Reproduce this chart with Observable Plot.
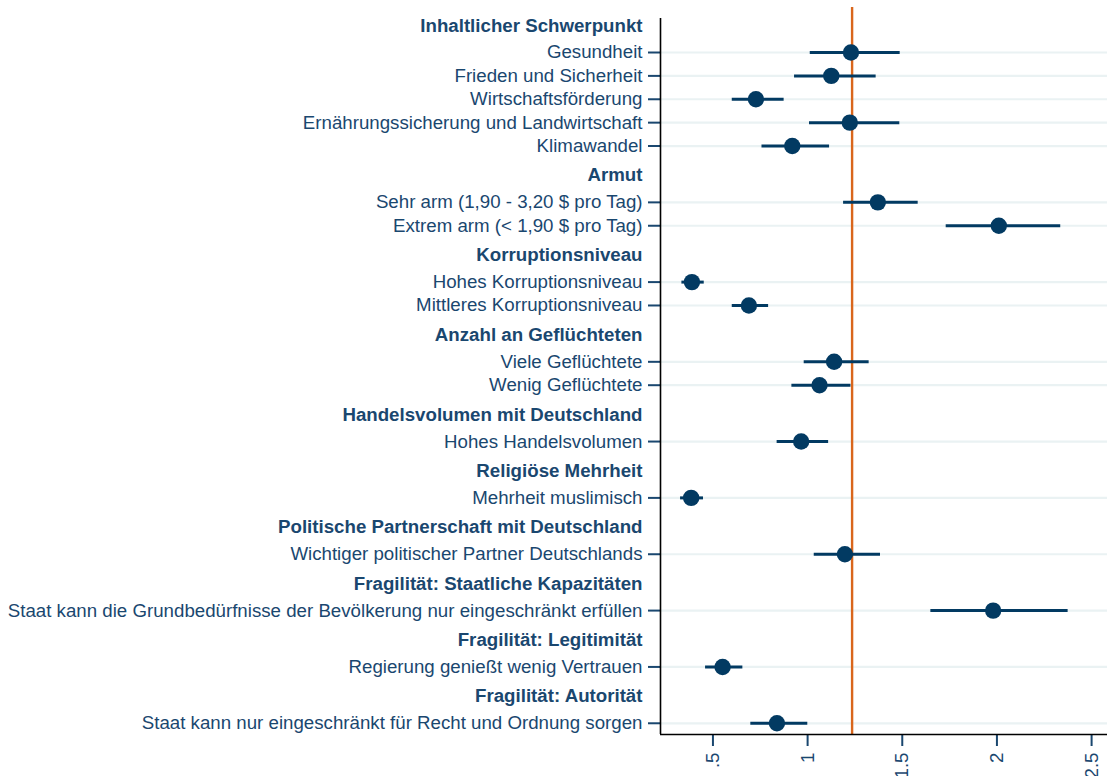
<!DOCTYPE html>
<html>
<head>
<meta charset="utf-8">
<script src="https://cdn.jsdelivr.net/npm/d3@7"></script>
<script src="https://cdn.jsdelivr.net/npm/@observablehq/plot@0.6"></script>
<style>
  html, body { margin: 0; padding: 0; background: #ffffff; }
  #chart svg { display: block; }
</style>
</head>
<body>
<div id="chart"></div>
<script>
// ---- Data ----
const groups = [
  "Inhaltlicher Schwerpunkt",
  "Armut",
  "Korruptionsniveau",
  "Anzahl an Geflüchteten",
  "Handelsvolumen mit Deutschland",
  "Religiöse Mehrheit",
  "Politische Partnerschaft mit Deutschland",
  "Fragilität: Staatliche Kapazitäten",
  "Fragilität: Legitimität",
  "Fragilität: Autorität"
];
const groupOf = [0,0,0,0,0,1,1,2,2,3,3,4,5,6,7,8,9];
const labels = [
  "Gesundheit",
  "Frieden und Sicherheit",
  "Wirtschaftsförderung",
  "Ernährungssicherung und Landwirtschaft",
  "Klimawandel",
  "Sehr arm (1,90 - 3,20 $ pro Tag)",
  "Extrem arm (< 1,90 $ pro Tag)",
  "Hohes Korruptionsniveau",
  "Mittleres Korruptionsniveau",
  "Viele Geflüchtete",
  "Wenig Geflüchtete",
  "Hohes Handelsvolumen",
  "Mehrheit muslimisch",
  "Wichtiger politischer Partner Deutschlands",
  "Staat kann die Grundbedürfnisse der Bevölkerung nur eingeschränkt erfüllen",
  "Regierung genießt wenig Vertrauen",
  "Staat kann nur eingeschränkt für Recht und Ordnung sorgen"
];
const estimates = [1.229, 1.125, 0.727, 1.223, 0.919, 1.371, 2.010, 0.389, 0.690, 1.140, 1.063, 0.966, 0.385, 1.197, 1.980, 0.551, 0.838];
const lower     = [1.014, 0.931, 0.602, 1.010, 0.759, 1.190, 1.732, 0.336, 0.602, 0.982, 0.917, 0.839, 0.329, 1.035, 1.651, 0.461, 0.700];
const upper     = [1.489, 1.362, 0.876, 1.487, 1.116, 1.584, 2.337, 0.454, 0.794, 1.325, 1.229, 1.111, 0.450, 1.385, 2.376, 0.658, 1.001];
const refValue = 1.235;
const xTicks = [0.5, 1, 1.5, 2, 2.5];
const xDomain = [0.223, 2.584];

// ---- Layout of rows (ordinal row index with extra gap between groups) ----
const groupGap = 2.41;      // row units between last item of a group and first of next
const headerOffset = 1.15;  // header sits this many row units above first item
let pos = 0;
const items = labels.map((label, i) => {
  if (i > 0) pos += (groupOf[i] !== groupOf[i - 1]) ? groupGap : 1;
  return {label, group: groupOf[i], est: estimates[i], lo: lower[i], hi: upper[i], pos};
});
const headers = groups.map((name, g) => {
  const first = items.find(d => d.group === g);
  return {name, pos: first.pos - headerOffset};
});
const lastPos = items[items.length - 1].pos;
const yDomain = [-1.925, lastPos + 0.48];
const yAxisTop = -1.454;
const labelByPos = new Map(items.map(d => [d.pos, d.label]));

const navy = "#1a476f";
const dotColor = "#023a62";
const font = "'Liberation Sans', Arial, Helvetica, sans-serif";

const chart = Plot.plot({
  width: 1107,
  height: 776,
  marginLeft: 660,
  marginRight: 0,
  marginTop: 7,
  marginBottom: 42,
  style: {fontFamily: font, fontSize: "18.7px", color: navy, background: "#ffffff", overflow: "visible"},
  x: {domain: xDomain, axis: null},
  y: {domain: yDomain, reverse: true, axis: null},
  marks: [
    Plot.ruleY(items, {y: "pos", stroke: "#eaf2f3", strokeWidth: 2.2}),
    Plot.ruleX([refValue], {stroke: "#d9661c", strokeWidth: 2.4}),
    Plot.ruleY(items, {y: "pos", x1: "lo", x2: "hi", stroke: dotColor, strokeWidth: 3}),
    Plot.dot(items, {x: "est", y: "pos", r: 8.2, fill: dotColor, stroke: "none"}),
    Plot.axisY({
      ticks: items.map(d => d.pos),
      tickFormat: p => labelByPos.get(p),
      tickSize: 12,
      tickPadding: 6,
      stroke: navy,
      strokeWidth: 2,
      fill: navy,
      label: null
    }),
    Plot.text(headers, {
      y: "pos",
      text: "name",
      frameAnchor: "left",
      textAnchor: "end",
      dx: -18,
      fontWeight: "bold",
      fill: navy
    }),
    Plot.axisX({
      ticks: xTicks,
      tickFormat: d => String(d).replace(/^0\./, "."),
      tickRotate: -90,
      tickSize: 12,
      tickPadding: 6,
      stroke: navy,
      strokeWidth: 2,
      fill: navy,
      label: null
    }),
    Plot.ruleX([xDomain[0]], {y1: yAxisTop, y2: yDomain[1], stroke: "#000000", strokeWidth: 1.6}),
    Plot.ruleY([yDomain[1]], {stroke: "#000000", strokeWidth: 1.6})
  ]
});
document.getElementById("chart").appendChild(chart);
</script>
</body>
</html>
